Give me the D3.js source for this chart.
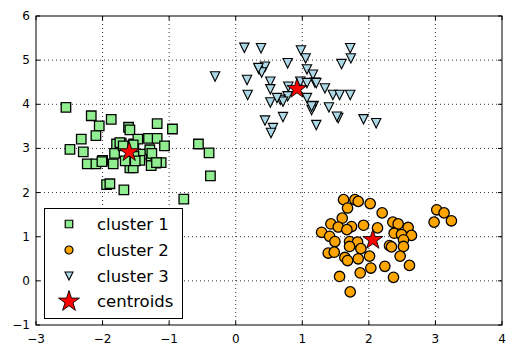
<!DOCTYPE html>
<html>
<head>
<meta charset="utf-8">
<script src="https://cdn.jsdelivr.net/npm/d3@7"></script>
<style>
  body { margin: 0; background: #fff; }
  text { font-family: "DejaVu Sans", sans-serif; }
</style>
</head>
<body>
<div id="chart"></div>
<script>
// values
var cluster1 = [
    [-2.55, 3.93], [-2.17, 3.74], [-1.87, 3.66], [-2.05, 3.51], [-2.10, 3.29],
    [-2.32, 3.21], [-2.49, 2.98], [-2.29, 2.92], [-2.23, 2.65], [-2.10, 2.65],
    [-2.00, 2.73], [-1.84, 2.65], [-1.94, 2.18], [-1.89, 2.20], [-1.68, 2.06],
    [-1.61, 3.48], [-1.59, 3.42], [-1.18, 3.56], [-0.95, 3.44], [-1.79, 3.10],
    [-1.72, 3.12], [-1.82, 2.89], [-1.53, 3.10], [-1.31, 3.23], [-1.18, 3.23],
    [-1.07, 3.06], [-1.39, 2.87], [-1.27, 2.83], [-1.29, 2.97], [-1.20, 2.67],
    [-1.12, 2.68], [-1.27, 2.61], [-1.59, 2.56], [-1.54, 2.56], [-1.44, 2.73],
    [-1.53, 2.82], [-1.66, 2.72], [-0.78, 1.85], [-0.56, 3.10], [-0.40, 2.90],
    [-0.38, 2.38], [-1.74, 3.13], [-1.47, 3.21], [-1.69, 3.06], [-1.54, 3.08],
    [-2.01, 2.70], [-1.51, 2.72], [-1.26, 2.89], [-1.19, 2.68]
];
var cluster2 = [
    [1.62, 1.84], [1.79, 1.84], [1.84, 1.80], [2.02, 1.75], [1.68, 1.65],
    [2.20, 1.54], [3.02, 1.61], [3.13, 1.54], [3.24, 1.36], [2.98, 1.33],
    [1.60, 1.42], [1.43, 1.29], [1.54, 1.22], [1.74, 1.23], [1.67, 1.16],
    [1.92, 1.26], [2.13, 1.20], [2.36, 1.33], [2.44, 1.29], [2.59, 1.21],
    [2.38, 1.08], [2.49, 1.05], [2.64, 1.03], [2.52, 0.93], [2.52, 0.78],
    [1.29, 1.10], [1.41, 1.01], [1.49, 0.89], [1.71, 0.89], [1.83, 0.88],
    [1.71, 0.78], [1.88, 0.73], [2.31, 0.80], [2.34, 0.77], [1.39, 0.63],
    [1.48, 0.65], [1.64, 0.53], [1.68, 0.46], [1.84, 0.50], [2.01, 0.56],
    [2.47, 0.56], [2.03, 0.29], [2.24, 0.33], [1.87, 0.18], [1.56, 0.10],
    [2.37, 0.08], [2.61, 0.35], [1.72, -0.25]
];
var cluster3 = [
    [0.13, 5.28], [0.38, 5.27], [0.98, 5.22], [1.05, 5.04], [1.72, 5.27],
    [1.73, 5.04], [1.59, 4.91], [0.78, 4.93], [-0.31, 4.63], [0.35, 4.79],
    [0.44, 4.85], [0.39, 4.72], [1.07, 4.79], [1.16, 4.67], [0.17, 4.55],
    [0.52, 4.51], [0.52, 4.34], [0.18, 4.21], [1.19, 4.49], [1.34, 4.36],
    [1.46, 4.21], [1.56, 4.21], [1.72, 4.21], [0.79, 4.40], [0.97, 4.51],
    [1.07, 4.48], [1.07, 4.14], [0.78, 4.18], [0.67, 4.10], [0.52, 4.04],
    [0.71, 4.06], [0.62, 4.14], [1.17, 3.96], [1.14, 3.87], [1.40, 3.93],
    [0.71, 3.71], [0.44, 3.63], [0.56, 3.46], [0.53, 3.35], [1.21, 3.53],
    [1.54, 3.69], [1.92, 3.66], [2.11, 3.57], [0.34, 4.82], [1.21, 4.48],
    [1.14, 3.95], [1.52, 3.72]
];
var centroids = [[-1.60, 2.92], [2.06, 0.93], [0.92, 4.35]];

var xTicks = [-3, -2, -1, 0, 1, 2, 3, 4];
var yTicks = [-1, 0, 1, 2, 3, 4, 5, 6];
var legendLabels = ['cluster 1', 'cluster 2', 'cluster 3', 'centroids'];

var width = 515;
var height = 356;
var plotL = 36, plotR = 502, plotT = 16, plotB = 325;

var svg = d3.select('#chart')
    .append('svg')
    .attr('width', width)
    .attr('height', height);

var x = d3.scaleLinear().domain([-3, 4]).range([plotL, plotR]);
var y = d3.scaleLinear().domain([-1, 6]).range([plotB, plotT]);

function minus(v) {
    return String(v).replace('-', '\u2212');
}

// dotted grid
svg.append('g').selectAll('line')
    .data(xTicks.slice(1, -1))
    .enter()
    .append('line')
    .attr('x1', function(d) { return x(d); })
    .attr('x2', function(d) { return x(d); })
    .attr('y1', plotT)
    .attr('y2', plotB)
    .attr('stroke', '#000')
    .attr('stroke-width', 0.8)
    .attr('stroke-dasharray', '1,3');

svg.append('g').selectAll('line')
    .data(yTicks.slice(1, -1))
    .enter()
    .append('line')
    .attr('y1', function(d) { return y(d); })
    .attr('y2', function(d) { return y(d); })
    .attr('x1', plotL)
    .attr('x2', plotR)
    .attr('stroke', '#000')
    .attr('stroke-width', 0.8)
    .attr('stroke-dasharray', '1,3');

// marker shapes
function squarePath(s) {
    return 'M' + (-s / 2) + ',' + (-s / 2) + 'h' + s + 'v' + s + 'h' + (-s) + 'Z';
}
function trianglePath(r) {
    return 'M' + (-r) + ',' + (-r) + 'L' + r + ',' + (-r) + 'L0,' + r + 'Z';
}
function circlePath(r) {
    return d3.symbol().type(d3.symbolCircle).size(Math.PI * r * r)();
}
function starPath(r) {
    var ri = r * 0.382;
    var pts = [];
    for (var i = 0; i < 10; i++) {
        var a = -Math.PI / 2 + i * Math.PI / 5;
        var rr = i % 2 === 0 ? r : ri;
        pts.push([rr * Math.cos(a), rr * Math.sin(a)]);
    }
    return 'M' + pts.join('L') + 'Z';
}

function drawPoints(data, pathStr, fill, stroke) {
    svg.append('g').selectAll('path')
        .data(data)
        .enter()
        .append('path')
        .attr('d', pathStr)
        .attr('transform', function(d) {
            return 'translate(' + x(d[0]) + ',' + y(d[1]) + ')';
        })
        .attr('fill', fill)
        .attr('stroke', '#000')
        .attr('stroke-width', stroke);
}

drawPoints(cluster1, squarePath(9.5), '#90ee90', 1.3);
drawPoints(cluster2, circlePath(5.2), '#ffa500', 1.3);
drawPoints(cluster3, trianglePath(4.7), '#add8e6', 1.1);
drawPoints(centroids, starPath(10.5), '#ff0000', 0.9);

// frame
svg.append('rect')
    .attr('x', plotL)
    .attr('y', plotT)
    .attr('width', plotR - plotL)
    .attr('height', plotB - plotT)
    .attr('fill', 'none')
    .attr('stroke', '#000')
    .attr('stroke-width', 1);

// inward ticks on all four sides
var tickG = svg.append('g').attr('stroke', '#000').attr('stroke-width', 1);
xTicks.forEach(function(t) {
    tickG.append('line').attr('x1', x(t)).attr('x2', x(t)).attr('y1', plotB).attr('y2', plotB - 4);
    tickG.append('line').attr('x1', x(t)).attr('x2', x(t)).attr('y1', plotT).attr('y2', plotT + 4);
});
yTicks.forEach(function(t) {
    tickG.append('line').attr('y1', y(t)).attr('y2', y(t)).attr('x1', plotL).attr('x2', plotL + 4);
    tickG.append('line').attr('y1', y(t)).attr('y2', y(t)).attr('x1', plotR).attr('x2', plotR - 4);
});

svg.append('g').selectAll('text')
    .data(xTicks)
    .enter()
    .append('text')
    .attr('x', function(d) { return x(d); })
    .attr('y', plotB + 18)
    .attr('text-anchor', 'middle')
    .attr('font-size', '12px')
    .text(minus);

svg.append('g').selectAll('text')
    .data(yTicks)
    .enter()
    .append('text')
    .attr('x', plotL - 6)
    .attr('y', function(d) { return y(d) + 4; })
    .attr('text-anchor', 'end')
    .attr('font-size', '12px')
    .text(minus);

// legend
var legend = svg.append('g');
legend.append('rect')
    .attr('x', 44.5)
    .attr('y', 208.5)
    .attr('width', 138)
    .attr('height', 110)
    .attr('fill', '#fff')
    .attr('stroke', '#000')
    .attr('stroke-width', 1);

var legendMarks = [
    { d: squarePath(7.5), fill: '#90ee90', sw: 1.2 },
    { d: circlePath(4), fill: '#ffa500', sw: 1.2 },
    { d: trianglePath(4), fill: '#add8e6', sw: 1.1 },
    { d: starPath(11), fill: '#ff0000', sw: 0.9 }
];
var rowY = [224, 250, 276, 301.5];

legendLabels.forEach(function(label, i) {
    legend.append('path')
        .attr('d', legendMarks[i].d)
        .attr('transform', 'translate(69,' + rowY[i] + ')')
        .attr('fill', legendMarks[i].fill)
        .attr('stroke', '#000')
        .attr('stroke-width', legendMarks[i].sw);
    legend.append('text')
        .attr('x', 97)
        .attr('y', rowY[i] + 5.5)
        .attr('font-size', '16.5px')
        .text(label);
});
</script>
</body>
</html>
